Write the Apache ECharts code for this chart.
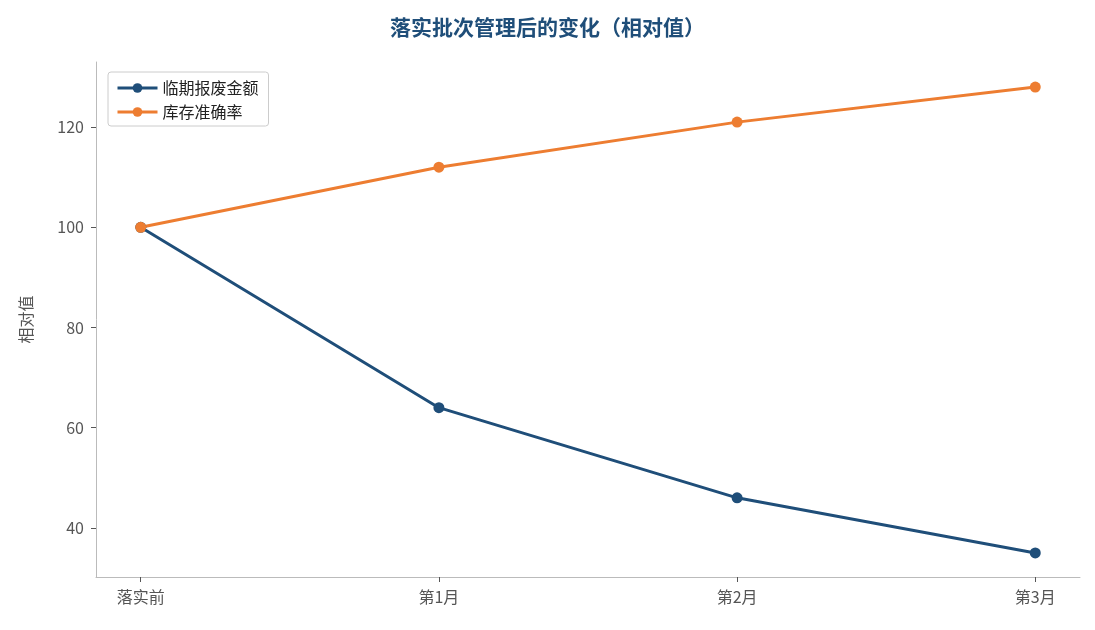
<!DOCTYPE html>
<html><head><meta charset="utf-8">
<script src="https://cdn.jsdelivr.net/npm/echarts@6/dist/echarts.min.js"></script>
<style>html,body{margin:0;padding:0;background:#fff}#c{width:1095px;height:630px}</style>
</head><body><div id="c"></div>
<script>
const categories = ['落实前','第1月','第2月','第3月'];
const scrapValues = [100, 64, 46, 35];
const accuracyValues = [100, 112, 121, 128];
const yTicks = [40, 60, 80, 100, 120];
const font = '"Noto Sans CJK SC", "Noto Sans", sans-serif';
const chart = echarts.init(document.getElementById('c'));
const toPts = v => v.map((y, i) => [i, y]);
chart.setOption({
  animation: false,
  textStyle: { fontFamily: font },
  title: { text: '落实批次管理后的变化（相对值）', left: 'center', top: 12,
    textStyle: { color: '#1f4e79', fontSize: 21, fontWeight: 'bold', fontFamily: font } },
  legend: { left: 108, top: 72, orient: 'vertical', itemGap: 8, itemWidth: 40, itemHeight: 12,
    padding: [8, 10, 6, 8], borderColor: '#ccc', borderWidth: 1, borderRadius: 3,
    itemStyle: {}, lineStyle: { width: 3 },
    textStyle: { fontSize: 16, color: '#222', fontFamily: font },
    data: ['临期报废金额', '库存准确率'] },
  grid: { left: 96, right: 15, top: 62, bottom: 53, containLabel: false },
  xAxis: { type: 'value', min: -0.15, max: 3.15,
    splitLine: { show: false },
    axisLine: { show: true, onZero: false, lineStyle: { color: '#bbb' } },
    axisTick: { show: true, customValues: [0,1,2,3], lineStyle: { color: '#555' } },
    axisLabel: { customValues: [0,1,2,3], formatter: v => categories[Math.round(v)],
      fontSize: 16, color: '#555', margin: 12, fontFamily: font } },
  yAxis: { type: 'value', min: 30.2, max: 133, name: '相对值', nameLocation: 'middle', nameGap: 62,
    nameTextStyle: { fontSize: 16, color: '#555', fontFamily: font },
    splitLine: { show: false },
    axisLine: { show: true, onZero: false, lineStyle: { color: '#bbb' } },
    axisTick: { show: true, customValues: yTicks, lineStyle: { color: '#555' } },
    axisLabel: { customValues: yTicks, fontSize: 16, color: '#555', margin: 12, fontFamily: font } },
  series: [
    { name: '临期报废金额', type: 'line', data: toPts(scrapValues), symbol: 'circle', symbolSize: 11,
      lineStyle: { width: 3, color: '#1f4e79' }, itemStyle: { color: '#1f4e79' } },
    { name: '库存准确率', type: 'line', data: toPts(accuracyValues), symbol: 'circle', symbolSize: 11,
      lineStyle: { width: 3, color: '#ed7d31' }, itemStyle: { color: '#ed7d31' } }
  ]
});
</script></body></html>
